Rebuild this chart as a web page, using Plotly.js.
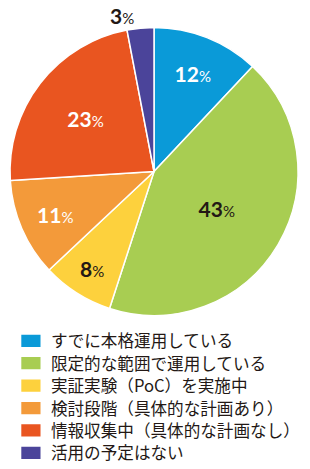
<!DOCTYPE html>
<html>
<head>
<meta charset="utf-8">
<script src="https://cdn.plot.ly/plotly-3.0.1.min.js"></script>
<style>
html,body{margin:0;padding:0;background:#fff;}
#chart{width:310px;height:469px;}
.legendpie{transform: translate(20px,0px) scale(1.83,1.17);}
.legend .scrollbar{display:none;}
</style>
</head>
<body>
<div id="chart"></div>
<script>
const categories = [
  "すでに本格運用している",
  "限定的な範囲で運用している",
  "実証実験（PoC）を実施中",
  "検討段階（具体的な計画あり）",
  "情報収集中（具体的な計画なし）",
  "活用の予定はない"
];
const values = [12, 43, 8, 11, 23, 3];
const colors = ["#0a9ad8", "#a8cd52", "#fdd13d", "#f39a3a", "#e95520", "#4b449a"];
const labelColors = ["#ffffff", "#231815", "#231815", "#ffffff", "#ffffff", "#231815"];
const textPositions = ["inside", "inside", "inside", "inside", "inside", "outside"];

const trace = {
  type: "pie",
  labels: categories,
  values: values,
  sort: false,
  direction: "clockwise",
  rotation: 0,
  marker: {colors: colors, line: {color: "#ffffff", width: 1.5}},
  texttemplate: "<b>%{value}</b><span style=\"font-size:15px;font-weight:normal\">%</span>",
  textposition: textPositions,
  insidetextorientation: "horizontal",
  textfont: {family: "Lato, sans-serif", size: 21, color: labelColors},
  outsidetextfont: {family: "Lato, sans-serif", size: 21, color: "#231815"},
  hoverinfo: "none",
  domain: {x: [0.0323, 0.9613], y: [0.3273, 0.9414]}
};

const layout = {
  width: 310,
  height: 469,
  margin: {l: 0, r: 0, t: 0, b: 0, autoexpand: false},
  paper_bgcolor: "#ffffff",
  showlegend: true,
  legend: {
    x: 0.0352, y: 0.34, xanchor: "left", yanchor: "top",
    orientation: "v",
    bgcolor: "rgba(0,0,0,0)",
    font: {family: "Noto Sans CJK JP, sans-serif", size: 16.6, color: "#231815"},
    itemclick: false, itemdoubleclick: false
  }
};

function tweakLegend(gd){
  const sb = gd.querySelector(".legend .scrollbox");
  if (sb) sb.removeAttribute("clip-path");
  const items = gd.querySelectorAll(".legend .traces");
  if (!items.length) return;
  const m = /translate\(\s*([-\d.]+)[ ,]+([-\d.]+)/.exec(items[0].getAttribute("transform") || "");
  const x0 = m ? parseFloat(m[1]) : 0;
  const y0 = (m ? parseFloat(m[2]) : 0) + 14;
  items.forEach(function(g, i){
    g.setAttribute("transform", "translate(" + x0 + "," + (y0 + i * 22.4) + ")");
  });
}

Plotly.newPlot("chart", [trace], layout, {staticPlot: true, displayModeBar: false}).then(function(gd){
  tweakLegend(gd);
});
</script>
</body>
</html>
